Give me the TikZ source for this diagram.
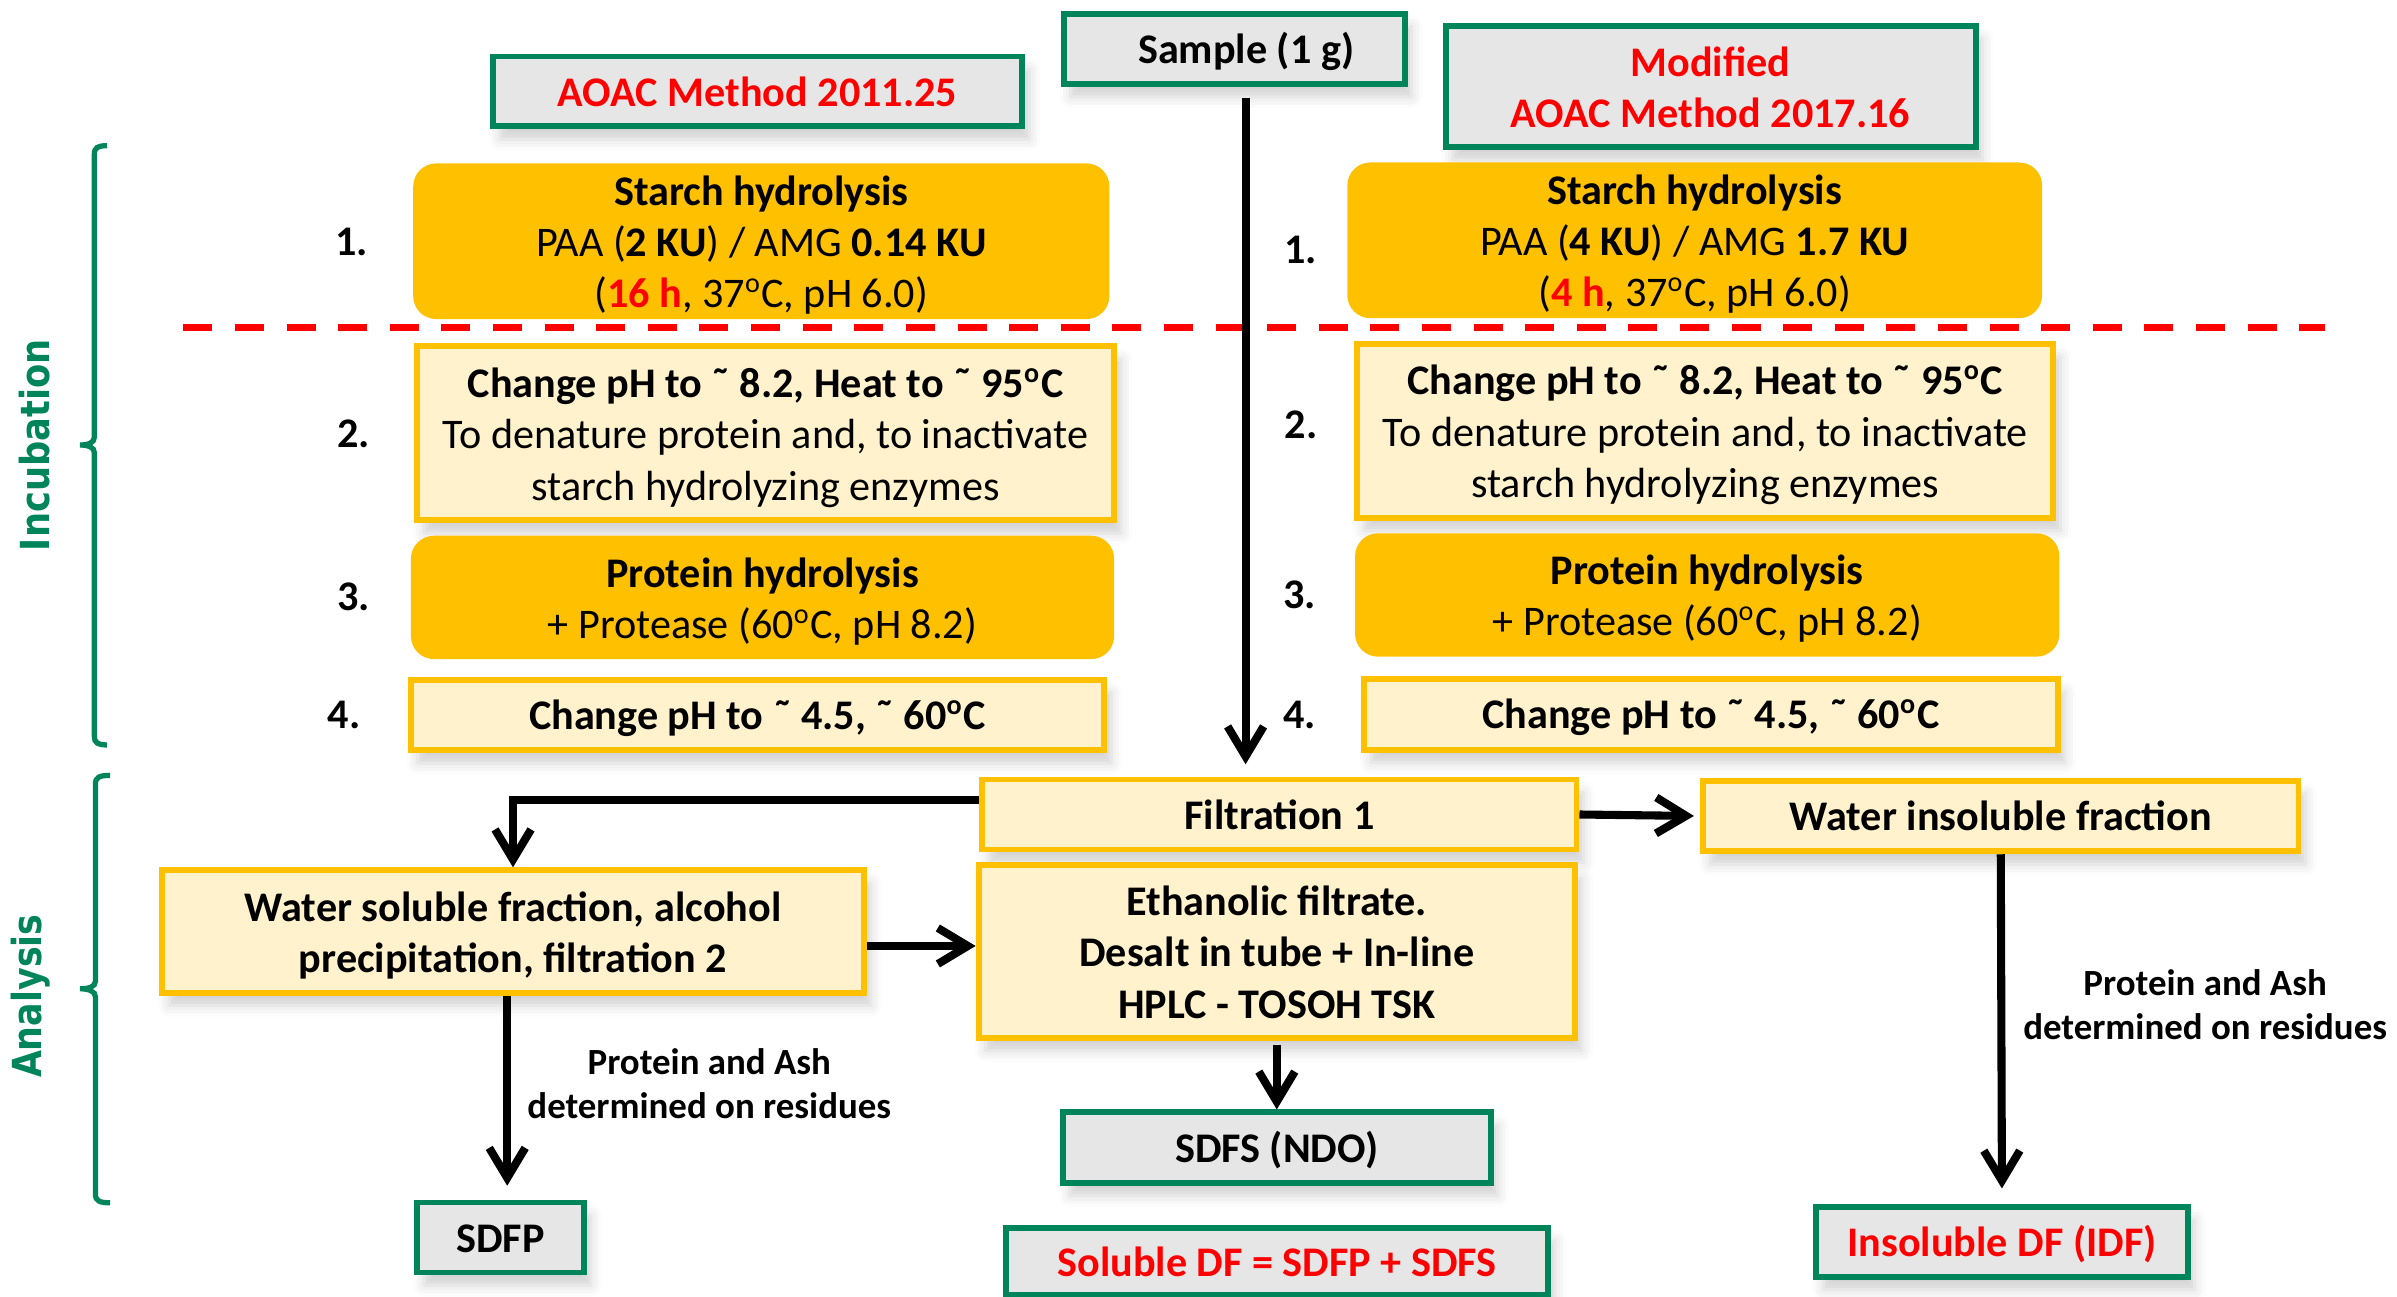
\documentclass[tikz,border=0pt]{standalone}
\usepackage{fontspec}
\usepackage{graphicx}
\setmainfont{Carlito}
\newfontfamily\sidefont{DejaVu Sans}
\usetikzlibrary{arrows.meta,shadows.blur,calc}

\definecolor{dgreen}{RGB}{0,133,90}
\definecolor{orng}{RGB}{255,192,0}
\definecolor{lyel}{RGB}{255,242,204}
\definecolor{lgray}{RGB}{231,230,230}
\definecolor{dred}{RGB}{255,0,0}

% one drawing unit
\newcommand\pxu{0.15287mm}
\newcommand\mainsz{\fontsize{12pt}{14.6pt}\selectfont}
\newcommand\notesz{\fontsize{10.5pt}{12.6pt}\selectfont}
\newcommand\dg{\textsuperscript{o}}
\newcommand\tld{\char"02DC\relax}
% top strut for the first line of multi-line boxes
\newcommand\mstrut{\rule{0pt}{11.9pt}}

\begin{document}
\begin{tikzpicture}[x=\pxu, y=-\pxu,
  sz/.style 2 args={minimum width=#1*\pxu, minimum height=#2*\pxu},
  base/.style={inner sep=0pt, align=center, font=\mainsz, text=black,
      execute at begin node={\rule{0pt}{11.5pt}},
      execute at end node={\rule[-3.2pt]{0pt}{3.2pt}}},
  shad/.style={blur shadow={shadow xshift=0.7mm, shadow yshift=-1.3mm,
      shadow blur radius=1.1mm, shadow opacity=18}},
  gbox/.style={base, shad, draw=dgreen, line width=1.7pt, fill=lgray, font=\mainsz\bfseries},
  ybox/.style={base, shad, draw=orng, line width=1.7pt, fill=lyel},
  ybbox/.style={ybox, font=\mainsz\bfseries},
  obox/.style={base, fill=orng, rounded corners=2.3mm},
  numlbl/.style={font=\mainsz\bfseries, inner sep=0pt},
  note/.style={font=\notesz\bfseries, align=center, inner sep=0pt},
  arr/.style={line width=2.3pt, -{Straight Barb[length=3mm, width=3.6mm]}},
  dashln/.style={draw=dred, line width=0.67mm, dash pattern=on 2.9mm off 2.26mm},
  brc/.style={draw=dgreen, line width=1.5pt},
  side/.style={rotate=90, text=dgreen, inner sep=0pt,
      font=\sidefont\bfseries\fontsize{11.4pt}{13pt}\selectfont}
]
\useasboundingbox (0,0) rectangle (1568,848.4);

% ---- headers ----
\node[gbox, sz={223}{46}] (sample) at (807.3,31.9) {\hspace*{2.4mm}Sample (1 g)};
\node[gbox, sz={346.3}{45.7}, text=dred] (aoac1) at (495.6,59.8) {AOAC Method 2011.25};
\node[gbox, sz={346.6}{79.4}, text=dred] (aoac2) at (1119,56.5) {\mstrut Modified\\AOAC Method 2017.16};

% ---- incubation steps, left column ----
\node[obox, sz={455.4}{101}] (st1) at (498,157.8)
  {\mstrut\textbf{Starch hydrolysis}\\PAA (\textbf{2 KU}) / AMG \textbf{0.14 KU}\\(\textbf{\textcolor{dred}{16 h}}, 37\dg C, pH 6.0)};
\node[ybox, sz={456}{113.8}] (ch1) at (500.8,283.5)
  {\mstrut\textbf{Change pH to \tld{} 8.2, Heat to \tld{} 95\dg C}\\To denature protein and, to inactivate\\starch hydrolyzing enzymes};
\node[obox, sz={460}{80.7}] (pr1) at (498.8,390.8)
  {\mstrut\textbf{Protein hydrolysis}\\+ Protease (60\dg C, pH 8.2)};
\node[ybbox, sz={453.6}{46.3}] (ph1) at (495.5,467.7) {Change pH to \tld{} 4.5, \tld{} 60\dg C};

% ---- incubation steps, right column ----
\node[obox, sz={454.5}{100.8}] (st2) at (1108.6,157.2)
  {\mstrut\textbf{Starch hydrolysis}\\PAA (\textbf{4 KU}) / AMG \textbf{1.7 KU}\\(\textbf{\textcolor{dred}{4 h}}, 37\dg C, pH 6.0)};
\node[ybox, sz={455.5}{113.8}] (ch2) at (1115.5,281.8)
  {\mstrut\textbf{Change pH to \tld{} 8.2, Heat to \tld{} 95\dg C}\\To denature protein and, to inactivate\\starch hydrolyzing enzymes};
\node[obox, sz={460.8}{80.7}] (pr2) at (1116.8,389.2)
  {\mstrut\textbf{Protein hydrolysis}\\+ Protease (60\dg C, pH 8.2)};
\node[ybbox, sz={454}{46.3}] (ph2) at (1119.2,467.3) {Change pH to \tld{} 4.5, \tld{} 60\dg C};

% ---- step numbers ----
\node[numlbl] (n1a) at (230.2,158.1) {1.};
\node[numlbl] (n2a) at (231.2,283.5) {2.};
\node[numlbl] (n3a) at (231.2,390.3) {3.};
\node[numlbl] (n4a) at (225.2,467.7) {4.};
\node[numlbl] (n1b) at (850.9,163.5) {1.};
\node[numlbl] (n2b) at (851,278) {2.};
\node[numlbl] (n3b) at (850,389.2) {3.};
\node[numlbl] (n4b) at (850,467.7) {4.};

% ---- separator ----
\draw[dashln] (120,214.1) -- (1521,214.1);

% ---- analysis ----
\node[ybbox, sz={388.7}{45.8}] (filt) at (836.9,532.8) {Filtration 1};
\node[ybbox, sz={389.5}{46.1}] (winsol) at (1308.8,533.8) {Water insoluble fraction};
\node[ybbox, sz={459}{80}] (wsol) at (335.6,609.3) {\mstrut Water soluble fraction, alcohol\\precipitation, filtration 2};
\node[ybbox, sz={390}{113}] (eth) at (835.2,622.4) {\mstrut Ethanolic filtrate.\\Desalt in tube + In-line\\HPLC - TOSOH TSK};
\node[gbox, sz={280}{46}] (sdfs) at (835.2,750.7) {SDFS (NDO)};
\node[gbox, sz={109}{45.8}] (sdfp) at (327.4,809.5) {SDFP};
\node[gbox, sz={354.7}{43.8}, text=dred] (soldf) at (835.3,825.2) {Soluble DF = SDFP + SDFS};
\node[gbox, sz={243}{45.8}, text=dred] (idf) at (1309.6,812.3) {Insoluble DF (IDF)};

\node[note] (lbl1) at (464,708.8) {Protein and Ash\\determined on residues};
\node[note] (lbl2) at (1442.5,657.4) {Protein and Ash\\determined on residues};

% ---- connectors ----
\coordinate (ctop) at ([xshift=7.5*\pxu]sample.south);
\draw[arr, shorten <=7*\pxu, shorten >=8*\pxu] (ctop) -- (ctop |- filt.north);
\draw[arr, shorten >=4*\pxu] (filt.east) -- (winsol.west);
\draw[arr] ([yshift=9.6*\pxu]filt.west) -| (wsol.north);
\draw[arr] ([yshift=-9.5*\pxu]wsol.east) -- ([yshift=-9.5*\pxu]wsol.east -| eth.west);
\draw[arr, shorten <=3*\pxu] (eth.south) -- (sdfs.north);
\coordinate (wsx) at ([xshift=-3.8*\pxu]wsol.south);
\draw[arr, shorten >=9*\pxu] (wsx) -- (wsx |- sdfp.north);
\draw[arr, shorten >=10*\pxu] (winsol.south) -- (idf.north);

% ---- side braces ----
\draw[brc] (70,95.3) .. controls (64,95.3) and (61.7,96.5) .. (61.7,101)
  -- (61.7,286) .. controls (61.7,289.5) and (58,291.1) .. (52.3,291.1)
  .. controls (58,291.1) and (61.7,292.7) .. (61.7,296)
  -- (61.7,481.5) .. controls (61.7,486) and (64,487.3) .. (70,487.3);
\draw[brc] (72,507.2) .. controls (65,507.2) and (62.4,508.5) .. (62.4,513)
  -- (62.4,642) .. controls (62.4,645.5) and (58,646.8) .. (52.3,646.8)
  .. controls (58,646.8) and (62.4,648.4) .. (62.4,652)
  -- (62.4,781) .. controls (62.4,785.5) and (65,786.8) .. (72,786.8);
\node[side] (inc) at (22.7,291.3) {\scalebox{0.88}[1]{Incubation}};
\node[side] (ana) at (20,651.7) {\scalebox{0.87}[1]{Analysis}};
\end{tikzpicture}
\end{document}
